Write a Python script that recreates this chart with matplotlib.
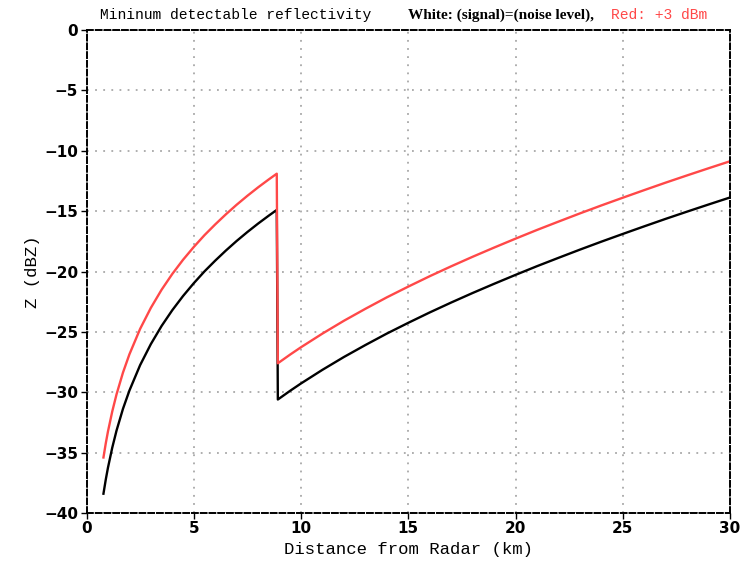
import matplotlib
matplotlib.use("Agg")
import matplotlib.pyplot as plt

# values (km, dBZ)
# black: signal = noise level
black_x = [0.79, 0.9, 1.0, 1.2, 1.4, 1.7, 2.0, 2.5, 3.0, 3.5, 4.0, 4.5, 5.0, 5.5, 6.0, 6.5, 7.0, 7.5, 8.0, 8.5, 8.87,
           8.92, 9.5, 10, 11, 12, 13, 14, 15, 16, 17, 18, 19, 20, 21, 22, 23, 24, 25, 26, 27, 28, 29, 30]
black_z = [-38.40, -37.21, -36.25, -34.59, -33.17, -31.37, -29.86, -27.75, -26.01, -24.51, -23.20, -22.03,
           -20.97, -19.99, -19.10, -18.26, -17.47, -16.73, -16.03, -15.37, -14.90,
           -30.60, -29.87, -29.27, -28.14, -27.08, -26.09, -25.14, -24.25, -23.39, -22.57, -21.78, -21.02,
           -20.28, -19.56, -18.87, -18.19, -17.53, -16.89, -16.26, -15.64, -15.04, -14.45, -13.87]

# red: +3 dBm
red_x = [0.79, 0.9, 1.0, 1.2, 1.4, 1.7, 2.0, 2.5, 3.0, 3.5, 4.0, 4.5, 5.0, 5.5, 6.0, 6.5, 7.0, 7.5, 8.0, 8.5, 8.87,
         8.92, 9.5, 10, 11, 12, 13, 14, 15, 16, 17, 18, 19, 20, 21, 22, 23, 24, 25, 26, 27, 28, 29, 30]
red_z = [-35.40, -34.21, -33.25, -31.59, -30.17, -28.37, -26.86, -24.75, -23.01, -21.51, -20.20, -19.03,
         -17.97, -16.99, -16.10, -15.26, -14.47, -13.73, -13.03, -12.37, -11.90,
         -27.60, -26.87, -26.27, -25.14, -24.08, -23.09, -22.14, -21.25, -20.39, -19.57, -18.78, -18.02,
         -17.28, -16.56, -15.87, -15.19, -14.53, -13.89, -13.26, -12.64, -12.04, -11.45, -10.87]

xticks = [0, 5, 10, 15, 20, 25, 30]
yticks = [0, -5, -10, -15, -20, -25, -30, -35, -40]

RED = "#ff4848"

fig = plt.figure(figsize=(7.4, 5.66), dpi=100)
ax = fig.add_axes([0.1169, 0.0936, 0.8696, 0.8534])

ax.plot(black_x, black_z, color="black", lw=1.7, zorder=3)
ax.plot(red_x, red_z, color=RED, lw=1.7, zorder=4)

ax.set_xlim(0, 30)
ax.set_ylim(-40, 0)
ax.set_xticks(xticks)
ax.set_yticks(yticks)
ax.set_xticklabels([str(t) for t in xticks])
ax.set_yticklabels([str(t).replace("-", "\u2212") for t in yticks])
for lab in ax.get_xticklabels() + ax.get_yticklabels():
    lab.set_fontweight("bold")
    lab.set_fontsize(11)
    lab.set_family("DejaVu Sans")
ax.tick_params(direction="out", length=4, width=1, pad=2)

ax.grid(True, color="#a8a8a8", linestyle=(0, (1, 3.5)), lw=1.3)
for s in ax.spines.values():
    s.set_linestyle((0, (3, 1.5)))
    s.set_linewidth(1.4)
    s.set_zorder(5)

ax.set_xlabel("Distance from Radar (km)", family="Liberation Mono", fontsize=12.4, labelpad=4)
ax.set_ylabel("Z (dBZ)", family="Liberation Mono", fontsize=12.4, labelpad=3)

fig.text(0.135, 0.962, "Mininum detectable reflectivity", family="Liberation Mono",
         fontsize=10.5, va="bottom")
fig.text(0.551, 0.962, "White: (signal)=(noise level),", family="Liberation Serif",
         fontweight="bold", fontsize=11, va="bottom")
fig.text(0.826, 0.962, "Red: +3 dBm", family="Liberation Mono", color=RED,
         fontsize=10.5, va="bottom")

fig.savefig("out.png", dpi=100)
